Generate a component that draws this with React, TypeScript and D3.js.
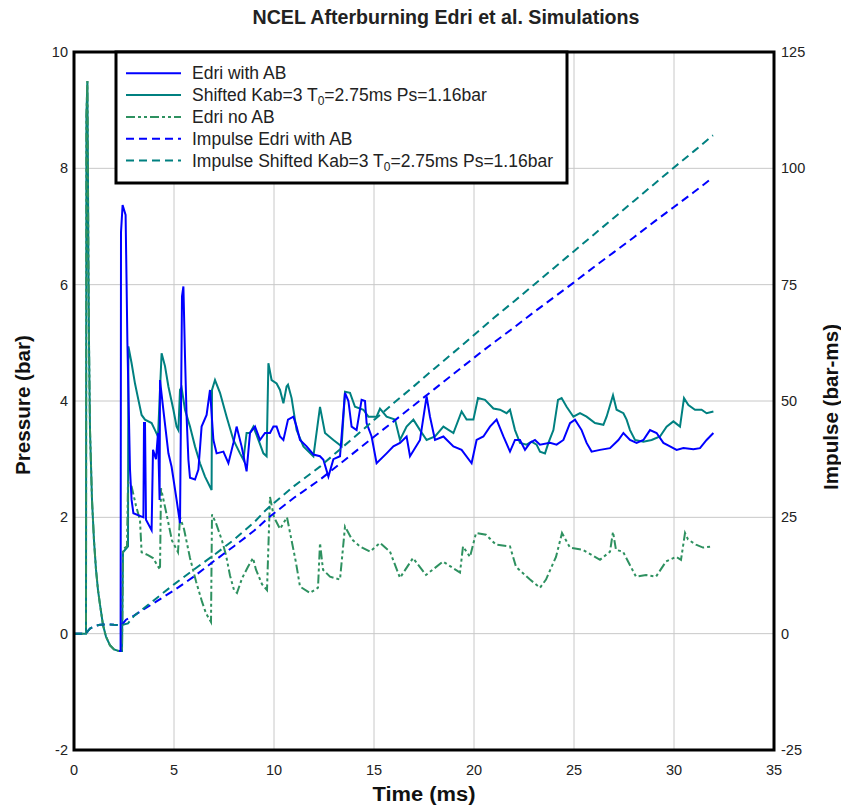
import React from "react";
import * as d3 from "d3";

type Pt = [number, number];

const xTicks = [0, 5, 10, 15, 20, 25, 30, 35];
const yTicks = [-2, 0, 2, 4, 6, 8, 10];
const yRightTicks = [-25, 0, 25, 50, 75, 100, 125];

const pulse: Pt[] = [
  [0, 0], [0.6, 0], [0.62, 8.9], [0.67, 9.5], [0.72, 6.5], [0.75, 5.0], [0.8, 3.5], [0.9, 2.3],
  [1.0, 1.6], [1.1, 1.1], [1.2, 0.75], [1.3, 0.5], [1.45, 0.15], [1.6, -0.05], [1.8, -0.2],
  [2.0, -0.27], [2.25, -0.3], [2.4, -0.3],
];

const shiftedTail: Pt[] = [
  [2.45, 1.4], [2.7, 1.5], [2.72, 4.94], [2.88, 4.65], [3.05, 4.3], [3.22, 4.02], [3.38, 3.76],
  [3.55, 3.68], [3.88, 3.62], [4.05, 3.5], [4.2, 3.39], [4.38, 4.82], [4.55, 4.6], [4.72, 4.25],
  [4.97, 3.85], [5.13, 3.56], [5.22, 3.5], [5.3, 4.19], [5.38, 4.23], [5.55, 3.85], [5.8, 3.56],
  [6.05, 3.22], [6.3, 2.93], [6.55, 2.7], [6.88, 2.47], [6.9, 4.19], [7.05, 4.36], [7.3, 4.14],
  [7.63, 3.73], [7.97, 3.33], [8.3, 3.1], [8.47, 2.99], [8.63, 3.45], [8.8, 3.45], [8.97, 3.56],
  [9.22, 3.33], [9.47, 3.1], [9.63, 3.05], [9.72, 4.65], [9.88, 4.36], [10.13, 4.3], [10.3, 4.19],
  [10.47, 3.96], [10.63, 4.25], [10.7, 4.28], [10.88, 4.05], [11.13, 3.5], [11.47, 3.22],
  [11.97, 3.05], [12.3, 3.9], [12.55, 3.45], [12.97, 3.33], [13.38, 3.22], [13.55, 4.16],
  [13.8, 4.14], [14.05, 3.9], [14.47, 3.85], [14.72, 3.73], [15.13, 3.73], [15.3, 3.87],
  [15.63, 3.73], [16.05, 3.68], [16.3, 3.33], [16.63, 3.56], [16.97, 3.68], [17.3, 3.5],
  [17.63, 3.33], [18.05, 3.39], [18.47, 3.56], [18.97, 3.45], [19.38, 3.82], [19.63, 3.68],
  [19.97, 3.68], [20.2, 4.05], [20.55, 4.02], [20.97, 3.87], [21.3, 3.85], [21.63, 3.79],
  [21.8, 3.85], [22.05, 3.5], [22.3, 3.28], [22.63, 3.25], [22.88, 3.3], [23.13, 3.25],
  [23.3, 3.13], [23.55, 3.1], [23.72, 3.28], [23.97, 3.5], [24.2, 4.02], [24.38, 4.05],
  [24.63, 3.9], [24.97, 3.73], [25.3, 3.79], [25.63, 3.73], [26.05, 3.62], [26.47, 3.59],
  [26.63, 3.73], [26.95, 4.1], [27.13, 3.85], [27.47, 3.79], [27.63, 3.68], [27.8, 3.5],
  [28.05, 3.33], [28.47, 3.3], [28.88, 3.33], [29.3, 3.39], [29.63, 3.56], [29.97, 3.65],
  [30.3, 3.56], [30.5, 4.05], [30.72, 3.93], [31.05, 3.85], [31.38, 3.85], [31.63, 3.79],
  [31.97, 3.82],
];

const noAbTail: Pt[] = [
  [2.45, 1.45], [2.65, 1.5], [2.7, 2.6], [2.88, 2.53], [3.1, 2.2], [3.3, 1.95], [3.38, 1.4],
  [3.7, 1.35], [3.95, 1.3], [4.3, 1.1], [4.35, 2.5], [4.6, 2.1], [4.9, 1.6], [5.2, 1.4],
  [5.3, 2.0], [5.5, 1.8], [5.8, 1.3], [6.1, 0.9], [6.4, 0.55], [6.6, 0.35], [6.85, 0.2],
  [6.9, 2.05], [7.1, 1.9], [7.4, 1.6], [7.6, 1.35], [7.8, 1.0], [8.0, 0.75], [8.15, 0.7],
  [8.4, 0.95], [8.7, 1.15], [8.95, 1.3], [9.1, 1.1], [9.4, 0.85], [9.65, 0.75], [9.8, 2.35],
  [10.0, 2.0], [10.3, 1.8], [10.65, 2.0], [11.1, 1.22], [11.3, 0.81], [11.8, 0.7], [12.2, 0.79],
  [12.3, 1.56], [12.45, 1.1], [12.8, 0.98], [13.3, 0.93], [13.55, 1.84], [13.9, 1.62],
  [14.3, 1.5], [14.8, 1.41], [15.3, 1.56], [15.8, 1.41], [16.3, 0.96], [16.95, 1.3],
  [17.6, 1.01], [18.45, 1.24], [19.3, 1.05], [19.45, 1.5], [19.8, 1.32], [20.1, 1.73],
  [20.6, 1.7], [21.1, 1.53], [21.8, 1.5], [22.1, 1.15], [22.8, 0.93], [23.3, 0.79],
  [23.6, 0.93], [24.1, 1.32], [24.4, 1.73], [24.8, 1.48], [25.45, 1.44], [26.3, 1.27],
  [26.8, 1.41], [26.95, 1.75], [27.1, 1.44], [27.45, 1.41], [28.1, 0.98], [28.6, 1.01],
  [29.1, 0.98], [29.6, 1.24], [30.1, 1.32], [30.35, 1.27], [30.55, 1.73], [30.7, 1.62],
  [31.1, 1.53], [31.45, 1.48], [31.95, 1.5],
];

const withAb: Pt[] = [
  [2.25, -0.3], [2.33, -0.3], [2.35, 6.9], [2.43, 7.37], [2.58, 7.2], [2.63, 6.0], [2.67, 5.0],
  [2.8, 2.82], [2.88, 2.3], [2.97, 2.07], [3.47, 2.0], [3.5, 3.62], [3.55, 3.62], [3.6, 1.96],
  [3.88, 1.78], [3.95, 3.16], [4.1, 3.0], [4.2, 3.45], [4.28, 2.3], [4.3, 4.36], [4.45, 3.9],
  [4.72, 3.1], [4.88, 2.87], [5.13, 2.3], [5.3, 1.9], [5.4, 5.8], [5.47, 5.97], [5.55, 4.77],
  [5.63, 3.73], [5.72, 2.99], [5.8, 2.68], [6.05, 2.65], [6.22, 2.82], [6.38, 3.56],
  [6.63, 3.76], [6.8, 4.19], [6.97, 3.33], [7.13, 3.1], [7.47, 3.13], [7.72, 2.93],
  [7.97, 3.28], [8.13, 3.56], [8.38, 3.22], [8.63, 2.79], [8.8, 3.45], [9.05, 3.56],
  [9.3, 3.33], [9.55, 3.45], [9.8, 3.45], [9.97, 3.56], [10.13, 3.56], [10.3, 3.39],
  [10.47, 3.33], [10.7, 3.68], [10.97, 3.73], [11.13, 3.56], [11.3, 3.33], [11.63, 3.22],
  [11.97, 3.08], [12.3, 3.05], [12.47, 2.99], [12.72, 2.7], [12.97, 3.0], [13.3, 3.05],
  [13.55, 4.14], [13.72, 4.0], [13.88, 3.56], [14.13, 3.5], [14.38, 4.02], [14.55, 4.0],
  [14.63, 3.62], [14.88, 3.39], [15.13, 2.93], [15.63, 3.1], [15.97, 3.22], [16.3, 3.28],
  [16.63, 3.39], [16.8, 3.05], [17.3, 3.33], [17.63, 4.08], [17.8, 3.73], [18.05, 3.33],
  [18.47, 3.39], [18.97, 3.22], [19.38, 3.16], [19.88, 2.93], [20.13, 3.33], [20.47, 3.39],
  [20.8, 3.56], [21.13, 3.68], [21.47, 3.39], [21.8, 3.13], [22.05, 3.33], [22.3, 3.33],
  [22.55, 3.16], [22.8, 3.28], [23.05, 3.33], [23.3, 3.25], [23.8, 3.28], [24.13, 3.25],
  [24.47, 3.33], [24.8, 3.62], [25.05, 3.68], [25.38, 3.5], [25.63, 3.28], [25.88, 3.13],
  [26.3, 3.16], [26.8, 3.19], [27.22, 3.33], [27.47, 3.45], [27.8, 3.33], [28.13, 3.28],
  [28.47, 3.33], [28.8, 3.5], [29.13, 3.45], [29.47, 3.28], [29.8, 3.22], [30.13, 3.16],
  [30.47, 3.19], [30.97, 3.17], [31.3, 3.19], [31.63, 3.33], [31.97, 3.45],
];

const impulseStart: Pt[] = [
  [0, 0], [0.6, 0], [0.7, 0.6], [0.8, 1.1], [1.0, 1.6], [1.3, 1.9], [1.6, 2.0], [2.0, 1.9], [2.35, 1.85],
];

const impulseWithAbTail: Pt[] = [
  [2.45, 2.2], [2.6, 3.0], [3, 3.9], [4, 6.6], [5, 9.3], [6, 12.3], [7, 15.6], [8, 18.8],
  [9, 22.1], [9.8, 25.2], [11, 29.2], [12.3, 33.1], [13, 35.5], [14, 38.9], [15, 42.3],
  [16, 45.7], [17, 49.1], [18, 52.5], [19, 55.9], [20.3, 60.3], [21, 62.6], [22, 65.8],
  [23, 69.1], [24, 72.3], [25, 75.5], [26, 78.8], [27, 82], [28, 85.2], [29, 88.5], [30, 91.7],
  [31, 94.9], [31.75, 97.4],
];

const impulseShiftedTail: Pt[] = [
  [2.7, 2.2], [3, 3.8], [4, 7.2], [5, 10.6], [6, 13.8], [7, 16.9], [8, 20.2], [9, 23.9],
  [9.6, 26.6], [10, 28.1], [11, 31.7], [12.3, 35.9], [13, 38.5], [14, 42.2], [15, 45.9],
  [16, 49.6], [17, 53.2], [18, 56.9], [19, 60.5], [20.3, 65.3], [21, 67.9], [22, 71.4],
  [23, 75], [24, 78.6], [25, 82.2], [26, 85.8], [27, 89.4], [28, 93], [29, 96.6], [30, 100.2],
  [31, 103.7], [31.95, 107.1],
];

const legendLabels = [
  "Edri with AB",
  "Shifted Kab=3 T0=2.75ms Ps=1.16bar",
  "Edri no AB",
  "Impulse Edri with AB",
  "Impulse Shifted Kab=3 T0=2.75ms Ps=1.16bar",
];

const BLUE = "#0000FF";
const TEAL = "#008080";
const GREEN = "#2E9160";
const DASH = "8,5";
const DASHDOT = "9,3,3,3,3,3";

export default function App() {
  const left = 74, right = 774, top = 52, bottom = 750;
  const x = d3.scaleLinear().domain([0, 35]).range([left, right]);
  const y = d3.scaleLinear().domain([-2, 10]).range([bottom, top]);
  const yR = d3.scaleLinear().domain([-25, 125]).range([bottom, top]);
  const lineP = d3.line<Pt>().x((d) => x(d[0])).y((d) => y(d[1]));
  const lineI = d3.line<Pt>().x((d) => x(d[0])).y((d) => yR(d[1]));

  const shifted = [...pulse, ...shiftedTail];
  const noAb = [...pulse, ...noAbTail];
  const impWith = [...impulseStart, ...impulseWithAbTail];
  const impShift = [...impulseStart, ...impulseShiftedTail];

  const font = "Arial, 'Liberation Sans', sans-serif";
  const legendStyles = [
    { color: BLUE, dash: "none" },
    { color: TEAL, dash: "none" },
    { color: GREEN, dash: DASHDOT },
    { color: BLUE, dash: DASH },
    { color: TEAL, dash: DASH },
  ];

  const renderLabel = (s: string) => {
    const idx = s.indexOf("T0");
    if (idx < 0) return s;
    return (
      <>
        {s.slice(0, idx + 1)}
        <tspan dy={4} fontSize={12}>0</tspan>
        <tspan dy={-4}>{s.slice(idx + 2)}</tspan>
      </>
    );
  };

  return (
    <svg width={841} height={805} style={{ position: "absolute", left: 0, top: 0, background: "#fff" }} fontFamily={font}>
      <rect x={0} y={0} width={841} height={805} fill="#fff" />
      {xTicks.slice(1, -1).map((t) => (
        <line key={"gx" + t} x1={x(t)} x2={x(t)} y1={top} y2={bottom} stroke="#c8c8c8" strokeWidth={1} />
      ))}
      {yTicks.slice(1, -1).map((t) => (
        <line key={"gy" + t} x1={left} x2={right} y1={y(t)} y2={y(t)} stroke="#c8c8c8" strokeWidth={1} />
      ))}

      <g fill="none" strokeWidth={2} strokeLinejoin="miter">
        <path d={lineP(shifted) || ""} stroke={TEAL} />
        <path d={lineP(noAb) || ""} stroke={GREEN} strokeDasharray={DASHDOT} />
        <path d={lineP(withAb) || ""} stroke={BLUE} />
        <path d={lineI(impWith) || ""} stroke={BLUE} strokeDasharray={DASH} />
        <path d={lineI(impShift) || ""} stroke={TEAL} strokeDasharray={DASH} />
      </g>

      <rect x={left} y={top} width={right - left} height={bottom - top} fill="none" stroke="#000" strokeWidth={3} />

      {xTicks.map((t) => (
        <text key={"xt" + t} x={x(t)} y={775} textAnchor="middle" fontSize={14.5} fill="#222">{t}</text>
      ))}
      {yTicks.map((t) => (
        <text key={"yt" + t} x={68} y={y(t) + 5} textAnchor="end" fontSize={14.5} fill="#222">{t}</text>
      ))}
      {yRightTicks.map((t) => (
        <text key={"yr" + t} x={781} y={yR(t) + 5} textAnchor="start" fontSize={14.5} fill="#222">{t}</text>
      ))}

      <text x={446} y={24} textAnchor="middle" fontSize={19.5} fontWeight="bold" fill="#222"
        textLength={387} lengthAdjust="spacingAndGlyphs">
        NCEL Afterburning Edri et al. Simulations
      </text>
      <text x={424} y={801} textAnchor="middle" fontSize={20} fontWeight="bold" fill="#111"
        textLength={103} lengthAdjust="spacingAndGlyphs">Time (ms)</text>
      <text transform={`translate(30,405) rotate(-90)`} textAnchor="middle" fontSize={20} fontWeight="bold" fill="#111"
        textLength={140} lengthAdjust="spacingAndGlyphs">
        Pressure (bar)
      </text>
      <text transform={`translate(838,407) rotate(-90)`} textAnchor="middle" fontSize={20} fontWeight="bold" fill="#111"
        textLength={166} lengthAdjust="spacingAndGlyphs">
        Impulse (bar-ms)
      </text>

      <rect x={116} y={52} width={451} height={131} fill="#fff" stroke="#000" strokeWidth={3} />
      {legendLabels.map((lab, i) => {
        const cy = 73.3 + i * 21.8;
        const st = legendStyles[i];
        return (
          <g key={"lg" + i}>
            <line x1={126} x2={181} y1={cy} y2={cy} stroke={st.color} strokeWidth={2}
              strokeDasharray={st.dash === "none" ? undefined : st.dash} />
            <text x={192} y={cy + 6} fontSize={17.5} fill="#222">{renderLabel(lab)}</text>
          </g>
        );
      })}
    </svg>
  );
}
